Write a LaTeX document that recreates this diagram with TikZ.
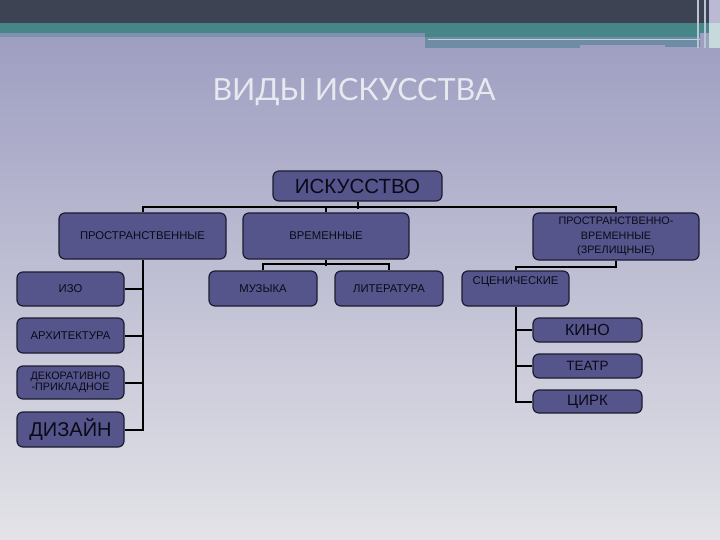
\documentclass[tikz,border=0pt]{standalone}
\usepackage{fontspec}
\setmainfont{Liberation Sans}
\newfontfamily\titlefont{Lato}
\definecolor{bgtop}{HTML}{9D9DC1}
\definecolor{bgbot}{HTML}{E3E3E8}
\definecolor{darkbar}{HTML}{3E4354}
\definecolor{tealbar}{HTML}{468588}
\definecolor{greyteal}{HTML}{6E8DA4}
\definecolor{thinline}{HTML}{7F8FAE}
\definecolor{boxfill}{HTML}{55558C}
\definecolor{boxline}{HTML}{1C1C30}
\definecolor{titlecol}{HTML}{E8E8F0}
\definecolor{txt}{HTML}{0A0A16}
\tikzset{
  box/.style={draw=boxline, line width=1.2pt, fill=boxfill, rounded corners=6pt,
    inner sep=0pt, text=txt, align=center},
  small/.style={font=\fontsize{11.3}{12}\selectfont},
  conn/.style={draw=black, line width=2pt}
}
\begin{document}
\begin{tikzpicture}[x=1pt,y=-1pt]
\useasboundingbox (0,0) rectangle (720,540);
% background
\shade[top color=bgtop, bottom color=bgbot] (0,30) rectangle (720,540);
\fill[darkbar] (0,0) rectangle (720,23);
\fill[tealbar] (0,23) rectangle (720,33);
\fill[thinline] (0,33) rectangle (425,37);
\fill[greyteal] (425,33) -- (700,33) -- (700,47) -- (665,47) -- (665,45) -- (580,45) -- (580,48) -- (425,48) -- cycle;
\fill[tealbar] (425,33) rectangle (700,37);
\fill[greyteal!40!white] (428,39) rectangle (700,40.5);
\fill[greyteal!50!white] (697,0) rectangle (699,48);
\fill[greyteal!50!white] (704,0) rectangle (706,48);
\fill[bgtop!70!white] (709,0) rectangle (720,23);
\fill[tealbar!30!white] (709,23) rectangle (720,48);
% title
\node[text=titlecol, font=\titlefont\fontsize{30.5}{33}\selectfont] (title) at (354,92) {ВИДЫ ИСКУССТВА};
% boxes
\node[box, minimum width=169pt, minimum height=30pt, font=\fontsize{20.5}{22}\selectfont] (isk) at (357.5,186) {ИСКУССТВО};
\node[box, small, minimum width=167pt, minimum height=46pt] (prostr) at (142.5,236) {ПРОСТРАНСТВЕННЫЕ};
\node[box, small, minimum width=166pt, minimum height=46pt] (vrem) at (326,236) {ВРЕМЕННЫЕ};
\node[box, minimum width=166pt, minimum height=47pt, font=\fontsize{10.8}{14.5}\selectfont] (pv) at (616,236.5) {ПРОСТРАНСТВЕННО-\\ВРЕМЕННЫЕ\\(ЗРЕЛИЩНЫЕ)};
\node[box, small, minimum width=107pt, minimum height=34pt] (izo) at (70.5,289) {ИЗО};
\node[box, small, minimum width=107pt, minimum height=35pt] (arch) at (70.5,335.5) {АРХИТЕКТУРА};
\node[box, minimum width=107pt, minimum height=33pt, font=\fontsize{10.8}{11.5}\selectfont] (deco) at (70.5,382.5) {ДЕКОРАТИВНО\\-ПРИКЛАДНОЕ};
\node[box, minimum width=107pt, minimum height=35pt, font=\fontsize{20}{22}\selectfont] (diz) at (70.5,429.5) {ДИЗАЙН};
\node[box, small, minimum width=108pt, minimum height=35pt] (muz) at (263,288.5) {МУЗЫКА};
\node[box, small, minimum width=108pt, minimum height=35pt] (lit) at (389,288.5) {ЛИТЕРАТУРА};
\node[box, minimum width=107pt, minimum height=35pt] (scen) at (515.5,288.5) {};
\node[small, text=txt, inner sep=0pt] (scentext) at (515.5,282) {СЦЕНИЧЕСКИЕ};
\node[box, minimum width=109pt, minimum height=24pt, font=\fontsize{16}{18}\selectfont] (kino) at (587.5,330) {КИНО};
\node[box, minimum width=109pt, minimum height=24pt, font=\fontsize{13.5}{16}\selectfont] (teatr) at (587.5,366) {ТЕАТР};
\node[box, minimum width=109pt, minimum height=23pt, font=\fontsize{15}{16}\selectfont] (cirk) at (587.5,401.5) {ЦИРК};
% connectors
\draw[conn] (isk.south) -- ++(0,7);
\draw[conn] (prostr.north) -- ++(0,-5) -| (pv.north);
\draw[conn] (vrem.north) -- ++(0,-5);
\draw[conn] (vrem.south) -- ++(0,6);
\draw[conn] (muz.north) -- ++(0,-6) -| (lit.north);
\draw[conn] (pv.south) -- ++(0,6) -| (scen.north);
\draw[conn] (prostr.south) |- (diz.east);
\draw[conn] (izo.east) -- (izo.east -| prostr.south);
\draw[conn] (arch.east) -- (arch.east -| prostr.south);
\draw[conn] (deco.east) -- (deco.east -| prostr.south);
\draw[conn] (scen.south) |- (cirk.west);
\draw[conn] (kino.west) -- (kino.west -| scen.south);
\draw[conn] (teatr.west) -- (teatr.west -| scen.south);
\end{tikzpicture}
\end{document}
